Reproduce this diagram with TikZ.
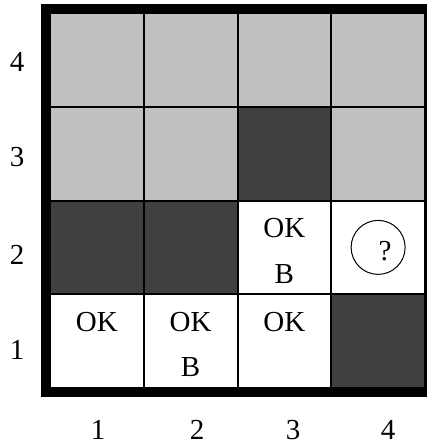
\documentclass[tikz,border=0pt]{standalone}
\usepackage{fontspec}
\setmainfont{Liberation Serif}
\usetikzlibrary{positioning}
\definecolor{wallgray}{HTML}{404040}
\definecolor{unknowngray}{HTML}{C0C0C0}
\tikzstyle{cell} = [rectangle, minimum size=93.75pt, inner sep=0pt, draw=black, line width=2pt]
\tikzstyle{unknown} = [cell, fill=unknowngray]
\tikzstyle{wall} = [cell, fill=wallgray]
\tikzstyle{safe} = [cell, fill=white]
\tikzstyle{celltext} = [inner sep=0pt, font=\fontsize{29}{34}\selectfont]

\begin{document}
\begin{tikzpicture}[x=1pt, y=-1pt]
\useasboundingbox (0,0) rectangle (427,448);

% Row 4
\node (c14) [unknown] at (96.875,59.875) {};
\node (c24) [unknown] at (190.625,59.875) {};
\node (c34) [unknown] at (284.375,59.875) {};
\node (c44) [unknown] at (378.125,59.875) {};

% Row 3
\node (c13) [unknown] at (96.875,153.625) {};
\node (c23) [unknown] at (190.625,153.625) {};
\node (c33) [wall] at (284.375,153.625) {};
\node (c43) [unknown] at (378.125,153.625) {};

% Row 2
\node (c12) [wall] at (96.875,247.375) {};
\node (c22) [wall] at (190.625,247.375) {};
\node (c32) [safe] at (284.375,247.375) {};
\node (c42) [safe] at (378.125,247.375) {};

% Row 1
\node (c11) [safe] at (96.875,341.125) {};
\node (c21) [safe] at (190.625,341.125) {};
\node (c31) [safe] at (284.375,341.125) {};
\node (c41) [wall] at (378.125,341.125) {};

% Outer frame
\draw [line width=9pt] (45.5,8.5) rectangle (429.5,392.5);

% Cell contents
\node (ok11) [celltext] at ([yshift=19pt]c11) {OK};
\node (ok21) [celltext] at ([yshift=19pt]c21) {OK};
\node (b21) [celltext] at ([yshift=-26pt]c21) {B};
\node (ok31) [celltext] at ([yshift=19pt]c31) {OK};
\node (ok32) [celltext] at ([yshift=19pt]c32) {OK};
\node (b32) [celltext] at ([yshift=-27pt]c32) {B};
\node (ask) [circle, draw=black, line width=1pt, minimum size=54pt, inner sep=0pt] at (c42) {};
\node (qm) [celltext] at ([xshift=7pt,yshift=-4pt]ask) {?};

% Row labels
\node (r4) [celltext] at (17,62) {4};
\node (r3) [celltext] at (17,157) {3};
\node (r2) [celltext] at (17,255) {2};
\node (r1) [celltext] at (17,350) {1};

% Column labels
\node (k1) [celltext] at (98,430) {1};
\node (k2) [celltext] at (197,430) {2};
\node (k3) [celltext] at (293,430) {3};
\node (k4) [celltext] at (388,430) {4};

\end{tikzpicture}
\end{document}
